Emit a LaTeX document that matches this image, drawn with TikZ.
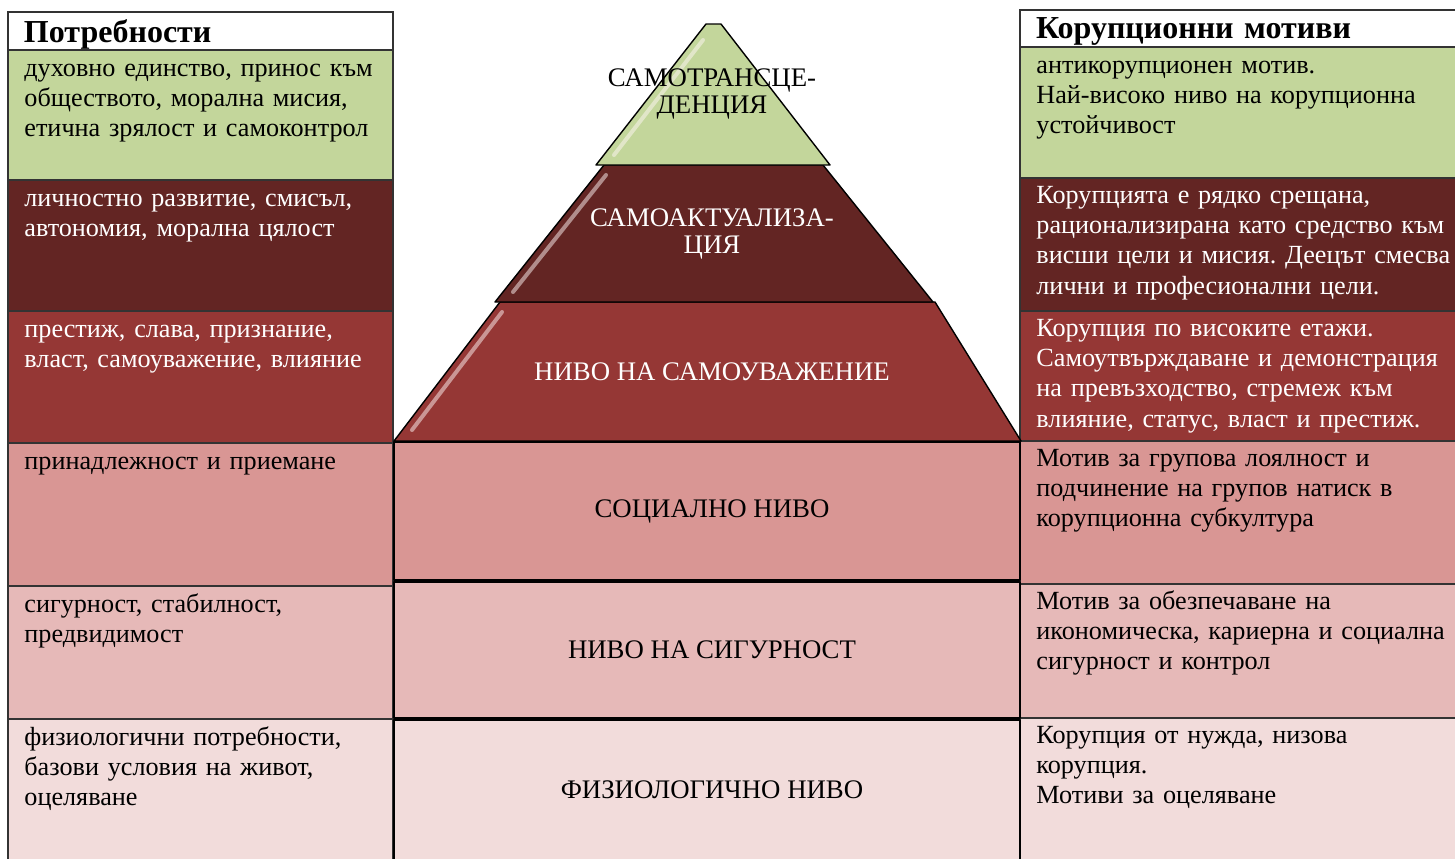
\documentclass[tikz,border=0pt]{standalone}
\usepackage{fontspec}
\setmainfont{Liberation Serif}
\usetikzlibrary{positioning}
\frenchspacing

\definecolor{lvgreen}{HTML}{C3D69B}
\definecolor{lvdark}{HTML}{632523}
\definecolor{lvred}{HTML}{953735}
\definecolor{lvpink}{HTML}{D99694}
\definecolor{lvrose}{HTML}{E6B9B8}
\definecolor{lvpale}{HTML}{F2DCDB}

\tikzstyle{cell} = [rectangle, draw=black!80, line width=0.6pt, outer sep=0pt, inner sep=0pt, anchor=north west]
\tikzstyle{lcell} = [cell, minimum width=192.5pt]
\tikzstyle{rcell} = [cell, minimum width=220pt]
\tikzstyle{head} = [font=\bfseries\fontsize{16}{18}\selectfont, inner xsep=8pt, text depth=0pt, align=left]
\tikzstyle{txt} = [inner sep=0pt, text width=230pt, align=left, font=\fontsize{13.1}{15.1}\selectfont]
\tikzstyle{level} = [draw=black, line width=0.7pt, line join=round]
\tikzstyle{label} = [align=center, font=\fontsize{13.4}{13.6}\selectfont]
\tikzstyle{gloss} = [white!85!pink, opacity=0.5, line width=2pt, line cap=round]

\begin{document}
\begin{tikzpicture}
    [x=0.5pt, y=-0.5pt, node distance = 0pt]
  \useasboundingbox (0,0) rectangle (1455,858);
  % left column: needs
  \node[lcell, head, fill=white, minimum height=19pt, text width=176.5pt] (L0) at (8,12) {Потребности};
  \node[lcell, fill=lvgreen, minimum height=65pt, below=of L0] (L1) {};
  \node[lcell, fill=lvdark, minimum height=65.5pt, below=of L1] (L2) {};
  \node[lcell, fill=lvred, minimum height=66pt, below=of L2] (L3) {};
  \node[lcell, fill=lvpink, minimum height=71.5pt, below=of L3] (L4) {};
  \node[lcell, fill=lvrose, minimum height=66.5pt, below=of L4] (L5) {};
  \node[lcell, fill=lvpale, minimum height=72.5pt, below=of L5] (L6) {};
  \node[txt, below right=2.5pt and 8pt of L1.north west] (L1t) {\strut духовно единство, принос към\\обществото, морална мисия,\\етична зрялост и самоконтрол};
  \node[txt, white, below right=2.5pt and 8pt of L2.north west] (L2t) {\strut личностно развитие, смисъл,\\автономия, морална цялост};
  \node[txt, white, below right=2.5pt and 8pt of L3.north west] (L3t) {\strut престиж, слава, признание,\\власт, самоуважение, влияние};
  \node[txt, below right=2.5pt and 8pt of L4.north west] (L4t) {\strut принадлежност и приемане};
  \node[txt, below right=2.5pt and 8pt of L5.north west] (L5t) {\strut сигурност, стабилност,\\предвидимост};
  \node[txt, below right=2.5pt and 8pt of L6.north west] (L6t) {\strut физиологични потребности,\\базови условия на живот,\\оцеляване};
  % right column: motives
  \node[rcell, head, fill=white, minimum height=18.5pt, text width=204pt] (R0) at (1020,10) {Корупционни мотиви};
  \node[rcell, fill=lvgreen, minimum height=65.5pt, below=of R0] (R1) {};
  \node[rcell, fill=lvdark, minimum height=66.5pt, below=of R1] (R2) {};
  \node[rcell, fill=lvred, minimum height=65pt, below=of R2] (R3) {};
  \node[rcell, fill=lvpink, minimum height=71.5pt, below=of R3] (R4) {};
  \node[rcell, fill=lvrose, minimum height=67pt, below=of R4] (R5) {};
  \node[rcell, fill=lvpale, minimum height=73pt, below=of R5] (R6) {};
  \node[txt, below right=2.5pt and 8pt of R1.north west] (R1t) {\strut антикорупционен мотив.\\Най-високо ниво на корупционна\\устойчивост};
  \node[txt, white, below right=2pt and 8pt of R2.north west] (R2t) {\strut Корупцията е рядко срещана,\\рационализирана като средство към\\висши цели и мисия. Деецът смесва\\лични и професионални цели.};
  \node[txt, white, below right=2pt and 8pt of R3.north west] (R3t) {\strut Корупция по високите етажи.\\Самоутвърждаване и демонстрация\\на превъзходство, стремеж към\\влияние, статус, власт и престиж.};
  \node[txt, below right=2pt and 8pt of R4.north west] (R4t) {\strut Мотив за групова лоялност и\\подчинение на групов натиск в\\корупционна субкултура};
  \node[txt, below right=2pt and 8pt of R5.north west] (R5t) {\strut Мотив за обезпечаване на\\икономическа, кариерна и социална\\сигурност и контрол};
  \node[txt, below right=2pt and 8pt of R6.north west] (R6t) {\strut Корупция от нужда, низова\\корупция.\\Мотиви за оцеляване};
  % pyramid
  \filldraw[level, fill=lvred] (394,441) -- (500,302) -- (935,302) -- (1021,441) -- cycle;
  \filldraw[level, fill=lvdark] (495,302) -- (604,165) -- (823,165) -- (933,302) -- cycle;
  \filldraw[level, fill=lvgreen] (596,165) -- (706,24) -- (721,24) -- (830,165) -- cycle;
  \draw[gloss] (412,430) -- (502,312);
  \draw[gloss] (513,292) -- (606,175);
  \draw[gloss] (614,155) -- (703,40);
  \node[label] (P1) at (712,94) {САМОТРАНСЦЕ-\\ДЕНЦИЯ};
  \node[label, white] (P2) at (712,234) {САМОАКТУАЛИЗА-\\ЦИЯ};
  \node[label, white] (P3) at (712,372) {НИВО НА САМОУВАЖЕНИЕ};
  \node[level, fill=lvpink, font=\fontsize{13.4}{15}\selectfont, minimum width=313pt, minimum height=69pt, outer sep=0pt] (P4) at (707,511) {\hspace{5pt}СОЦИАЛНО НИВО};
  \node[level, fill=lvrose, font=\fontsize{13.4}{15}\selectfont, minimum width=313pt, minimum height=68pt, outer sep=0pt, below=1pt of P4] (P5) {\hspace{5pt}НИВО НА СИГУРНОСТ};
  \node[level, fill=lvpale, font=\fontsize{13.4}{15}\selectfont, minimum width=313pt, minimum height=70pt, outer sep=0pt, below=1pt of P5] (P6) {\hspace{5pt}ФИЗИОЛОГИЧНО НИВО};
\end{tikzpicture}
\end{document}
